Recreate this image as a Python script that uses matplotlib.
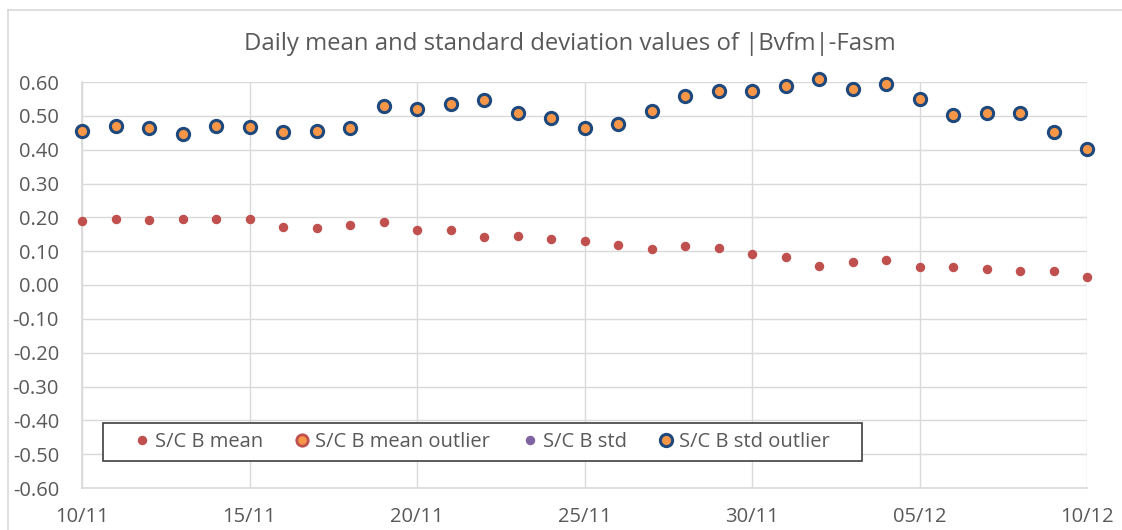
import pandas as pd
import matplotlib
matplotlib.use("Agg")
import matplotlib.pyplot as plt
from matplotlib.lines import Line2D
from matplotlib.patches import Rectangle

plt.rcParams['font.family'] = ['Open Sans', 'DejaVu Sans']

dates = pd.date_range("2021-11-10", "2021-12-10", freq="D")
sc_b_mean = [0.190, 0.194, 0.192, 0.196, 0.194, 0.194, 0.172, 0.168, 0.177, 0.187,
             0.162, 0.164, 0.142, 0.144, 0.137, 0.129, 0.117, 0.107, 0.115, 0.109,
             0.091, 0.082, 0.056, 0.069, 0.075, 0.053, 0.053, 0.046, 0.041, 0.040,
             0.023]
sc_b_std = [0.456, 0.471, 0.463, 0.447, 0.470, 0.467, 0.451, 0.455, 0.465, 0.528,
            0.521, 0.536, 0.547, 0.508, 0.494, 0.465, 0.476, 0.514, 0.558, 0.572,
            0.574, 0.589, 0.609, 0.578, 0.594, 0.551, 0.501, 0.507, 0.507, 0.453,
            0.401]
tick_dates = dates[::5]
tick_labels = [d.strftime("%d/%m") for d in tick_dates]
y_ticks = [round(-0.6 + 0.1 * i, 1) for i in range(13)]

red = "#C0504D"
orange = "#F79646"
purple = "#8064A2"
navy = "#1F497D"
txt = "#595959"
W, H = 1122, 530

fig = plt.figure(figsize=(11.22, 5.30), dpi=100)
ax = fig.add_axes([82 / W, 1 - 488 / H, 1005 / W, 406 / H])

# outer chart border
fig.add_artist(Line2D([8 / W, 8 / W], [0, 1 - 10 / H], color="#D9D9D9", lw=1.2))
fig.add_artist(Line2D([8 / W, 1], [1 - 10 / H, 1 - 10 / H], color="#D9D9D9", lw=1.2))

ax.plot(dates, sc_b_mean, ls="none", marker="o", ms=5.8, color=red, mec=red,
        clip_on=False, zorder=3, label="S/C B mean")
ax.plot([], [], ls="none", marker="o", ms=8.2, mfc=orange, mec=red, mew=2.0,
        label="S/C B mean outlier")
ax.plot([], [], ls="none", marker="o", ms=5.8, color=purple, label="S/C B std")
ax.plot(dates, sc_b_std, ls="none", marker="o", ms=8.8, mfc=orange, mec=navy, mew=2.2,
        clip_on=False, zorder=3, label="S/C B std outlier")

ax.set_xlim(dates[0], dates[-1])
ax.set_ylim(-0.6, 0.6)
ax.set_xticks(tick_dates)
ax.set_xticklabels(tick_labels)
ax.set_yticks(y_ticks)
ax.set_yticklabels([f"{v:.2f}" for v in y_ticks])
ax.tick_params(axis="both", length=0, labelsize=14.5, labelcolor=txt)
ax.tick_params(axis="x", pad=14)
ax.tick_params(axis="y", pad=16.5)
ax.grid(True, color="#D9D9D9", lw=1)
ax.set_axisbelow(True)
for s in ["top", "right"]:
    ax.spines[s].set_visible(False)
for s in ["left", "bottom"]:
    ax.spines[s].set_color("#D9D9D9")
    ax.spines[s].set_linewidth(1.2)

fig.text(570 / W, 1 - 50 / H, "Daily mean and standard deviation values of |Bvfm|-Fasm",
         ha="center", va="baseline", fontsize=17.2, color=txt)

# legend frame drawn separately so spacing can follow the original
fig.add_artist(Rectangle((102.5 / W, 1 - 460.7 / H), (862 - 102.5) / W, 37.4 / H,
                         transform=fig.transFigure, facecolor="white",
                         edgecolor="#404040", lw=1.2, zorder=2))
handles, labels = ax.get_legend_handles_labels()
fig.legend(handles, labels, loc="center left", bbox_to_anchor=(131.7 / W, 1 - 442 / H),
           ncol=4, fontsize=14.5, frameon=False, borderpad=0, borderaxespad=0,
           handlelength=1.0, handletextpad=0.145, columnspacing=1.46,
           labelcolor=txt)

fig.savefig("out.png", dpi=100)
